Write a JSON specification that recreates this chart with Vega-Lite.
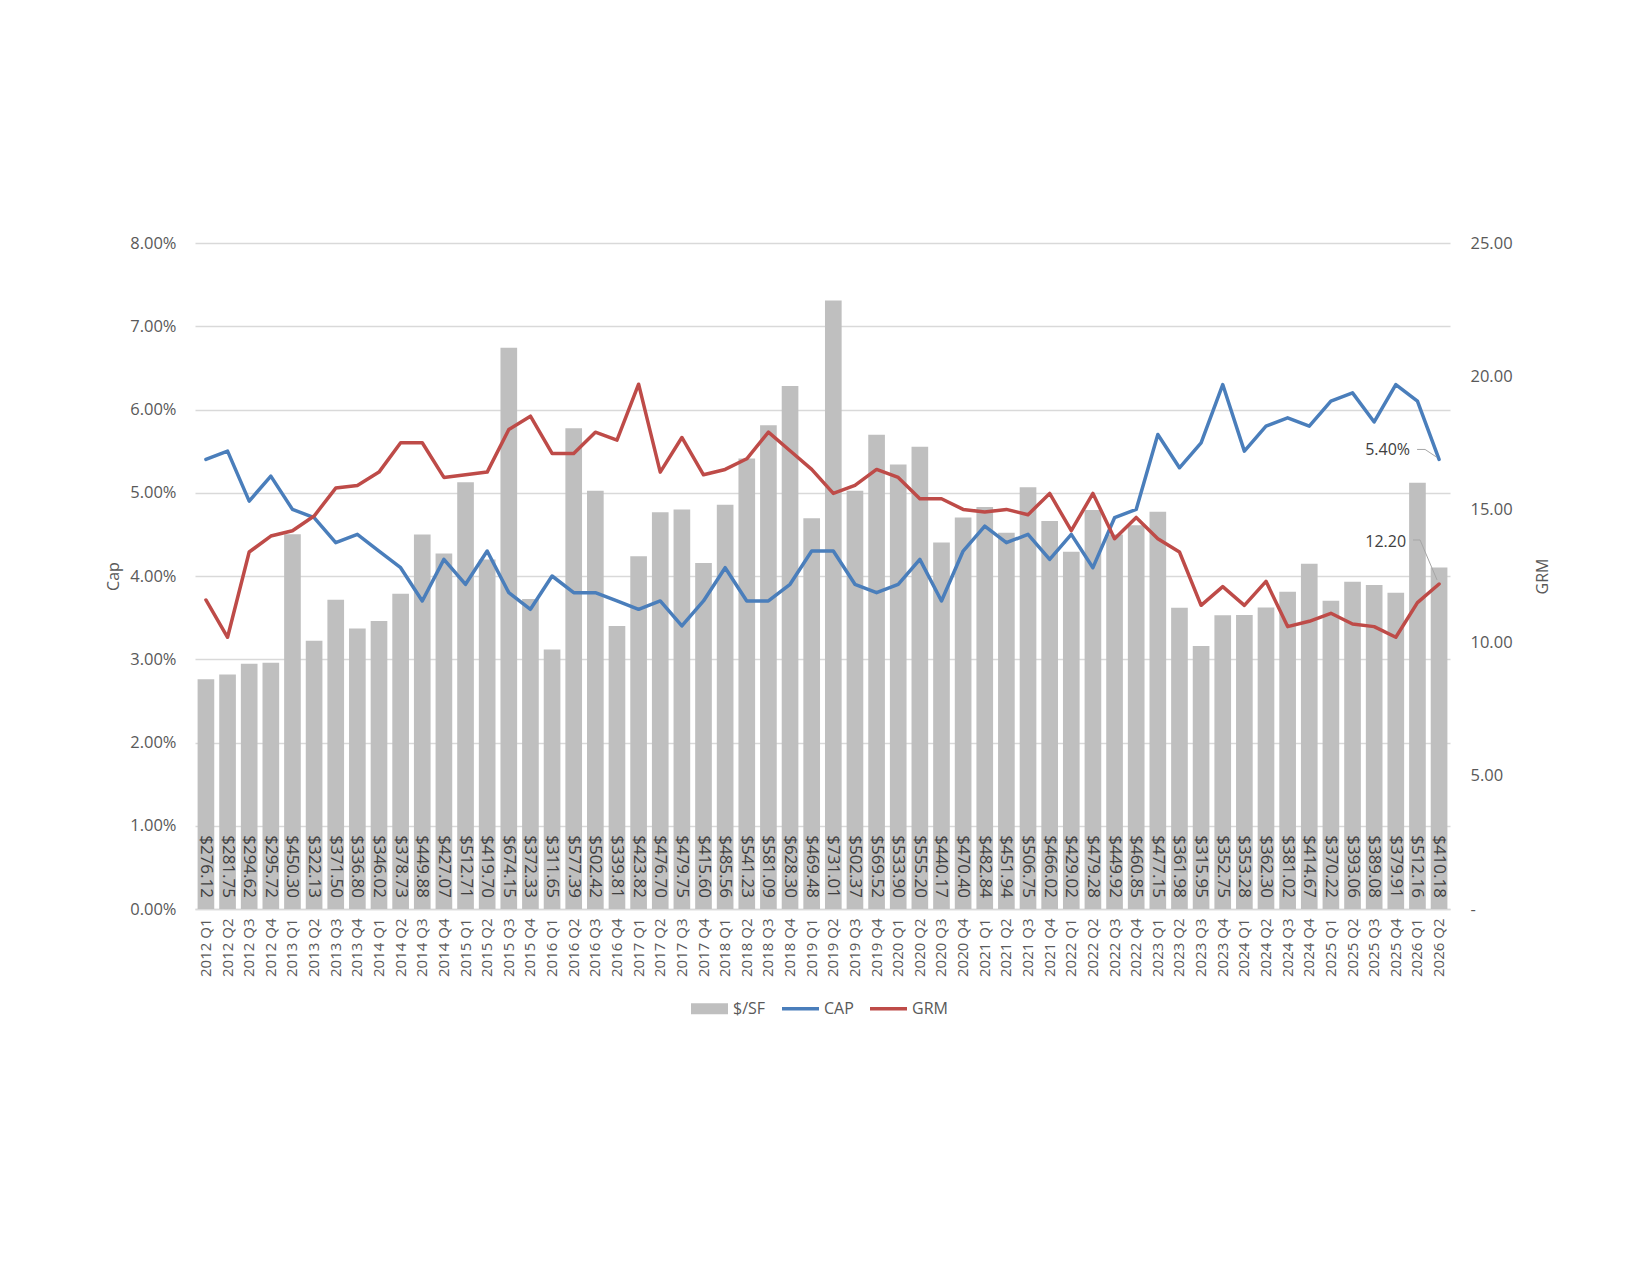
{
  "$schema": "https://vega.github.io/schema/vega-lite/v6.json",
  "width": 1255,
  "height": 666,
  "autosize": {"type": "none"},
  "padding": {"left": 195, "top": 243, "right": 200, "bottom": 366},
  "background": "white",
  "config": {
    "font": "Open Sans",
    "view": {"stroke": null},
    "axis": {"labelColor": "#595959", "titleColor": "#595959", "titleFontWeight": "normal"}
  },
  "data": {"values": [
    {"q":"2012 Q1","sf":276.12,"cap":0.054,"grm":11.6},
    {"q":"2012 Q2","sf":281.75,"cap":0.055,"grm":10.2},
    {"q":"2012 Q3","sf":294.62,"cap":0.049,"grm":13.4},
    {"q":"2012 Q4","sf":295.72,"cap":0.052,"grm":14.0},
    {"q":"2013 Q1","sf":450.30,"cap":0.048,"grm":14.2},
    {"q":"2013 Q2","sf":322.13,"cap":0.047,"grm":14.75},
    {"q":"2013 Q3","sf":371.50,"cap":0.044,"grm":15.8},
    {"q":"2013 Q4","sf":336.80,"cap":0.045,"grm":15.9},
    {"q":"2014 Q1","sf":346.02,"cap":0.043,"grm":16.4},
    {"q":"2014 Q2","sf":378.73,"cap":0.041,"grm":17.5},
    {"q":"2014 Q3","sf":449.88,"cap":0.037,"grm":17.5},
    {"q":"2014 Q4","sf":427.07,"cap":0.042,"grm":16.2},
    {"q":"2015 Q1","sf":512.71,"cap":0.039,"grm":16.3},
    {"q":"2015 Q2","sf":419.70,"cap":0.043,"grm":16.4},
    {"q":"2015 Q3","sf":674.15,"cap":0.038,"grm":18.0},
    {"q":"2015 Q4","sf":372.33,"cap":0.036,"grm":18.5},
    {"q":"2016 Q1","sf":311.65,"cap":0.040,"grm":17.1},
    {"q":"2016 Q2","sf":577.39,"cap":0.038,"grm":17.1},
    {"q":"2016 Q3","sf":502.42,"cap":0.038,"grm":17.9},
    {"q":"2016 Q4","sf":339.81,"cap":0.037,"grm":17.6},
    {"q":"2017 Q1","sf":423.82,"cap":0.036,"grm":19.7},
    {"q":"2017 Q2","sf":476.70,"cap":0.037,"grm":16.4},
    {"q":"2017 Q3","sf":479.75,"cap":0.034,"grm":17.7},
    {"q":"2017 Q4","sf":415.60,"cap":0.037,"grm":16.3},
    {"q":"2018 Q1","sf":485.56,"cap":0.041,"grm":16.5},
    {"q":"2018 Q2","sf":541.23,"cap":0.037,"grm":16.9},
    {"q":"2018 Q3","sf":581.09,"cap":0.037,"grm":17.9},
    {"q":"2018 Q4","sf":628.30,"cap":0.039,"grm":17.2},
    {"q":"2019 Q1","sf":469.48,"cap":0.043,"grm":16.5},
    {"q":"2019 Q2","sf":731.01,"cap":0.043,"grm":15.6},
    {"q":"2019 Q3","sf":502.37,"cap":0.039,"grm":15.9},
    {"q":"2019 Q4","sf":569.52,"cap":0.038,"grm":16.5},
    {"q":"2020 Q1","sf":533.90,"cap":0.039,"grm":16.2},
    {"q":"2020 Q2","sf":555.20,"cap":0.042,"grm":15.4},
    {"q":"2020 Q3","sf":440.17,"cap":0.037,"grm":15.4},
    {"q":"2020 Q4","sf":470.40,"cap":0.043,"grm":15.0},
    {"q":"2021 Q1","sf":482.84,"cap":0.046,"grm":14.9},
    {"q":"2021 Q2","sf":451.94,"cap":0.044,"grm":15.0},
    {"q":"2021 Q3","sf":506.75,"cap":0.045,"grm":14.8},
    {"q":"2021 Q4","sf":466.02,"cap":0.042,"grm":15.6},
    {"q":"2022 Q1","sf":429.02,"cap":0.045,"grm":14.2},
    {"q":"2022 Q2","sf":479.28,"cap":0.041,"grm":15.6},
    {"q":"2022 Q3","sf":449.92,"cap":0.047,"grm":13.9},
    {"q":"2022 Q4","sf":460.85,"cap":0.048,"grm":14.7},
    {"q":"2023 Q1","sf":477.15,"cap":0.057,"grm":13.9},
    {"q":"2023 Q2","sf":361.98,"cap":0.053,"grm":13.4},
    {"q":"2023 Q3","sf":315.95,"cap":0.056,"grm":11.4},
    {"q":"2023 Q4","sf":352.75,"cap":0.063,"grm":12.1},
    {"q":"2024 Q1","sf":353.28,"cap":0.055,"grm":11.4},
    {"q":"2024 Q2","sf":362.30,"cap":0.058,"grm":12.3},
    {"q":"2024 Q3","sf":381.02,"cap":0.059,"grm":10.6},
    {"q":"2024 Q4","sf":414.67,"cap":0.058,"grm":10.8},
    {"q":"2025 Q1","sf":370.22,"cap":0.061,"grm":11.1},
    {"q":"2025 Q2","sf":393.06,"cap":0.062,"grm":10.7},
    {"q":"2025 Q3","sf":389.08,"cap":0.0585,"grm":10.6},
    {"q":"2025 Q4","sf":379.91,"cap":0.063,"grm":10.2},
    {"q":"2026 Q1","sf":512.16,"cap":0.061,"grm":11.5},
    {"q":"2026 Q2","sf":410.18,"cap":0.054,"grm":12.2}
  ]},
  "encoding": {
    "x": {
      "field": "q", "type": "ordinal", "sort": null,
      "scale": {"paddingInner": 0.23, "paddingOuter": 0.12},
      "axis": {
        "title": null, "labelAngle": -90, "labelFontSize": 15, "labelPadding": 9,
        "ticks": false, "domain": true, "domainColor": "#D9D9D9", "domainWidth": 1.3, "grid": false
      }
    }
  },
  "layer": [
    {
      "layer": [
        {
          "mark": {"type": "bar", "color": "#BFBFBF"},
          "encoding": {
            "y": {"field": "sf", "type": "quantitative", "scale": {"domain": [0, 800], "nice": false}, "axis": null},
            "color": {
              "datum": "$/SF",
              "scale": {"domain": ["$/SF", "CAP", "GRM"], "range": ["#BFBFBF", "#4A7EBB", "#BE4B48"]},
              "legend": {
                "orient": "none", "legendX": 496, "legendY": 747, "direction": "horizontal", "title": null,
                "symbolType": "M-1,-0.3H1V0.3H-1Z", "symbolSize": 1369,
                "labelFontSize": 16, "labelColor": "#595959", "labelOffset": 5, "columnPadding": 16,
                "encode": {"symbols": {"update": {
                  "shape": {"signal": "datum.value === '$/SF' ? 'M-1,-0.3H1V0.3H-1Z' : 'M-1,-0.1H1V0.1H-1Z'"},
                  "fill": {"scale": "color", "field": "value"},
                  "stroke": {"value": "transparent"},
                  "strokeWidth": {"value": 0},
                  "opacity": {"value": 1}
                }}}
              }
            }
          }
        },
        {
          "mark": {"type": "text", "angle": 90, "align": "right", "baseline": "middle", "dx": -11, "fontSize": 17, "color": "#404040"},
          "encoding": {
            "y": {"datum": 0, "type": "quantitative", "scale": {"domain": [0, 800], "nice": false}},
            "text": {"field": "sf", "type": "quantitative", "format": "$.2f"}
          }
        }
      ]
    },
    {
      "layer": [
        {
          "mark": {"type": "line", "strokeWidth": 3.5, "strokeJoin": "round", "strokeCap": "round"},
          "encoding": {
            "y": {
              "field": "cap", "type": "quantitative",
              "scale": {"domain": [0, 0.08], "nice": false},
              "axis": {
                "orient": "left", "title": "Cap", "format": ".2%",
                "values": [0, 0.01, 0.02, 0.03, 0.04, 0.05, 0.06, 0.07, 0.08],
                "labelFontSize": 16.5, "labelPadding": 19, "ticks": false, "domain": false,
                "grid": true, "gridColor": "#D9D9D9", "gridWidth": 1.3,
                "titleFontSize": 16, "titleX": -82, "titleY": 333, "titleAngle": 270,
                "titleAlign": "center", "titleBaseline": "middle"
              }
            },
            "color": {"datum": "CAP"}
          }
        },
        {
          "transform": [{"filter": "datum.q === '2026 Q2'"}],
          "mark": {"type": "text", "align": "right", "baseline": "middle", "dx": -29, "dy": -9, "fontSize": 16, "color": "#404040"},
          "encoding": {
            "y": {"field": "cap", "type": "quantitative"},
            "text": {"field": "cap", "type": "quantitative", "format": ".2%"}
          }
        },
        {
          "transform": [{"filter": "datum.q === '2026 Q2'"}],
          "mark": {"type": "rule", "color": "#A6A6A6", "strokeWidth": 1, "xOffset": -22, "yOffset": -10, "x2Offset": -14, "y2Offset": -10},
          "encoding": {
            "y": {"field": "cap", "type": "quantitative"},
            "x2": {"field": "q"},
            "y2": {"field": "cap"}
          }
        },
        {
          "transform": [{"filter": "datum.q === '2026 Q2'"}],
          "mark": {"type": "rule", "color": "#A6A6A6", "strokeWidth": 1, "xOffset": -14, "yOffset": -10, "x2Offset": -2, "y2Offset": -2},
          "encoding": {
            "y": {"field": "cap", "type": "quantitative"},
            "x2": {"field": "q"},
            "y2": {"field": "cap"}
          }
        }
      ]
    },
    {
      "layer": [
        {
          "mark": {"type": "line", "strokeWidth": 3.5, "strokeJoin": "round", "strokeCap": "round"},
          "encoding": {
            "y": {
              "field": "grm", "type": "quantitative",
              "scale": {"domain": [0, 25], "nice": false},
              "axis": {
                "orient": "right", "title": "GRM",
                "values": [0, 5, 10, 15, 20, 25],
                "labelExpr": "datum.value == 0 ? '-' : format(datum.value, '.2f')",
                "labelFontSize": 16.5, "labelPadding": 20, "ticks": false, "domain": false, "grid": false,
                "titleFontSize": 16, "titleX": 92, "titleY": 333, "titleAngle": 270,
                "titleAlign": "center", "titleBaseline": "middle"
              }
            },
            "color": {"datum": "GRM"}
          }
        },
        {
          "transform": [{"filter": "datum.q === '2026 Q2'"}],
          "mark": {"type": "text", "align": "right", "baseline": "middle", "dx": -33, "dy": -42, "fontSize": 16, "color": "#404040"},
          "encoding": {
            "y": {"field": "grm", "type": "quantitative"},
            "text": {"field": "grm", "type": "quantitative", "format": ".2f"}
          }
        },
        {
          "transform": [{"filter": "datum.q === '2026 Q2'"}],
          "mark": {"type": "rule", "color": "#A6A6A6", "strokeWidth": 1, "xOffset": -26, "yOffset": -44, "x2Offset": -19, "y2Offset": -44},
          "encoding": {
            "y": {"field": "grm", "type": "quantitative"},
            "x2": {"field": "q"},
            "y2": {"field": "grm"}
          }
        },
        {
          "transform": [{"filter": "datum.q === '2026 Q2'"}],
          "mark": {"type": "rule", "color": "#A6A6A6", "strokeWidth": 1, "xOffset": -19, "yOffset": -44, "x2Offset": -2, "y2Offset": -4},
          "encoding": {
            "y": {"field": "grm", "type": "quantitative"},
            "x2": {"field": "q"},
            "y2": {"field": "grm"}
          }
        }
      ]
    }
  ],
  "resolve": {"scale": {"y": "independent"}}
}
